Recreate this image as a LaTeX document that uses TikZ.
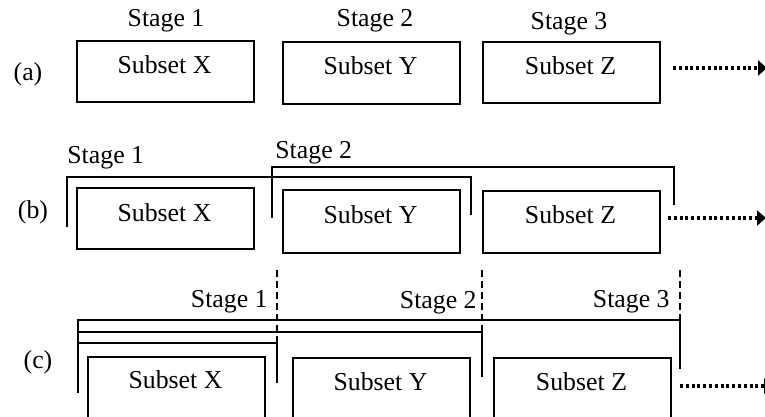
\documentclass[tikz,border=0pt]{standalone}
\usepackage{fontspec}
\setmainfont{Liberation Serif}
\usetikzlibrary{arrows.meta}
\begin{document}
\begin{tikzpicture}[x=0.5pt,y=-0.5pt,
  box/.style={draw,line width=0.95pt,inner sep=0pt,minimum width=88.5pt,minimum height=30.5pt,anchor=north west},
  txt/.style={inner sep=0pt,anchor=base,font=\fontsize{12.9}{15}\selectfont},
  brk/.style={line width=0.95pt},
  dsh/.style={line width=0.7pt,dash pattern=on 3.5pt off 2pt},
  dotarrow/.style={line width=1.6pt,dash pattern=on 1.5pt off 1.4pt,-{Triangle[length=4.5pt,width=7.5pt]}}
]
\useasboundingbox (0,0) rectangle (765,417);
\clip (0,0) rectangle (765,417);

% ---------- (a) ----------
\node[txt] (la) at (28,81) {(a)};
\node[box] (xa) at (76,40) {};
\node[box,minimum height=31pt] (ya) at (282,41) {};
\node[box] (za) at (482,41) {};
\node[txt] (txa) at (164.5,74) {Subset X};
\node[txt] (tya) at (370.5,75) {Subset Y};
\node[txt] (tza) at (570.5,75) {Subset Z};
\node[txt] (s1a) at (166,27) {Stage 1};
\node[txt] (s2a) at (375,27) {Stage 2};
\node[txt] (s3a) at (569,30) {Stage 3};
\coordinate (a0) at (673,68);
\coordinate (a1) at (767,68);
\draw[dotarrow] (a0) -- (a1);

% ---------- (b) ----------
\node[txt] (lb) at (33,218) {(b)};
\node[box] (xb) at (76,187) {};
\node[box,minimum height=31.5pt] (yb) at (282,189) {};
\node[box,minimum height=31pt] (zb) at (482,190) {};
\node[txt] (txb) at (164.5,221) {Subset X};
\node[txt] (tyb) at (370.5,223) {Subset Y};
\node[txt] (tzb) at (570.5,223) {Subset Z};
\node[txt,anchor=base west] (s1b) at (67,163) {Stage 1};
\node[txt,anchor=base west] (s2b) at (275,158) {Stage 2};
\draw[brk] (67,227) -- (67,177) -- (471,177) -- (471,215);
\draw[brk] (272,218) -- (272,167) -- (674,167) -- (674,205);
\coordinate (b0) at (668,218);
\coordinate (b1) at (766,218);
\draw[dotarrow] (b0) -- (b1);

% ---------- (c) ----------
\node[txt] (lc) at (38,368) {(c)};
\node[box,minimum height=40pt] (xc) at (87,356) {};
\node[box,minimum height=40pt] (yc) at (292,357) {};
\node[box,minimum height=40pt] (zc) at (493,357) {};
\node[txt] (txc) at (175.5,388) {Subset X};
\node[txt] (tyc) at (380.5,390) {Subset Y};
\node[txt] (tzc) at (581.5,390) {Subset Z};
\node[txt,anchor=base east] (s1c) at (268,307) {Stage 1};
\node[txt,anchor=base east] (s2c) at (477,308) {Stage 2};
\node[txt,anchor=base east] (s3c) at (670,307) {Stage 3};
\draw[dsh] (277,270) -- (277,343);
\draw[dsh] (482,270) -- (482,332);
\draw[dsh] (680,270) -- (680,320);
\draw[brk] (78,393) -- (78,320) -- (680,320) -- (680,369);
\draw[brk] (78,332) -- (482,332) -- (482,377);
\draw[brk] (78,343) -- (277,343) -- (277,383);
\coordinate (c0) at (680,386);
\coordinate (c1) at (773,386);
\draw[dotarrow] (c0) -- (c1);
\end{tikzpicture}
\end{document}
